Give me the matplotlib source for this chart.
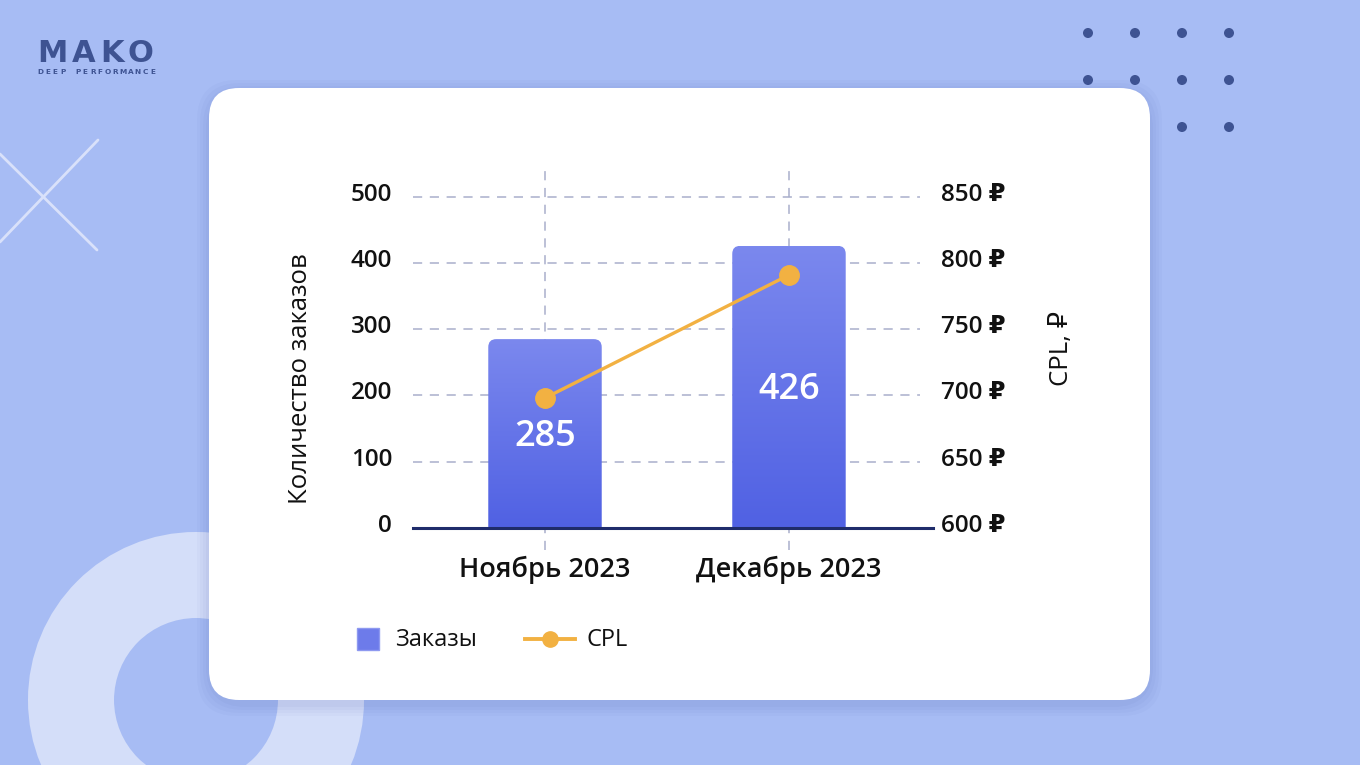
import numpy as np
import matplotlib.pyplot as plt
from matplotlib.patches import FancyBboxPatch, Circle, Rectangle
from matplotlib.transforms import ScaledTranslation

# data
months = ['Ноябрь 2023', 'Декабрь 2023']
orders = [285, 426]
cpl = [698, 791]
left_ticks = [0, 100, 200, 300, 400, 500]
right_ticks = [600, 650, 700, 750, 800, 850]
right_labels = [f'{v} ₽' for v in right_ticks]
legend_labels = ['Заказы', 'CPL']

plt.rcParams['font.family'] = ['Open Sans', 'DejaVu Sans']

W, H = 1360, 765
bg = '#a7bcf4'
navy = '#3e5392'
bar_col = '#6d7bea'
line_col = '#f2b142'
fig = plt.figure(figsize=(W / 100, H / 100), dpi=100)
fig.patch.set_facecolor(bg)

# background decoration, in pixel coords
deco = fig.add_axes([0, 0, 1, 1])
deco.set_xlim(0, W)
deco.set_ylim(H, 0)
deco.axis('off')
deco.add_patch(Circle((196, 700), 125, fill=False, ec='#d4def9', lw=86 * 0.72))
deco.plot([98, 0], [140, 242], color='#d9e1fa', lw=2, solid_capstyle='round')
deco.plot([0, 97], [154, 250], color='#d9e1fa', lw=2, solid_capstyle='round')
for xd in [1088, 1135, 1182, 1229]:
    for yd in [33, 80, 127]:
        deco.add_patch(Circle((xd, yd), 4.3, color=navy))

# logo
for ch, xc in zip('MAKO', [52, 84, 112, 140]):
    deco.text(xc, 62, ch, ha='center', va='baseline', fontsize=22, fontweight='bold',
              color=navy, family=['DejaVu Sans'])
sub = 'DEEP PERFORMANCE'
for i, ch in enumerate(sub):
    deco.text(40 + i * 113 / (len(sub) - 1), 74, ch, ha='center', va='baseline',
              fontsize=5.3, fontweight='bold', color=navy, family=['DejaVu Sans'])

# card with soft shadow
for i, a in enumerate([0.03, 0.03, 0.03, 0.04]):
    g = 12 - i * 3
    deco.add_patch(FancyBboxPatch((209 - g + 30, 88 - g + 34), 941 + 2 * g - 60, 612 + 2 * g - 60,
                                  boxstyle='round,pad=30,rounding_size=40',
                                  fc='#3a4f9a', ec='none', alpha=a))
deco.add_patch(FancyBboxPatch((239, 118), 881, 552, boxstyle='round,pad=30,rounding_size=30',
                              fc='white', ec='none'))

# legend, drawn by hand
deco.add_patch(Rectangle((357, 628), 22, 22, fc=bar_col, ec='#8e99f0', lw=1))
deco.text(395, 640, legend_labels[0], ha='left', va='center', fontsize=17, color='#111111')
deco.plot([525, 575], [639, 639], color=line_col, lw=2.8)
deco.plot([550], [639], 'o', color=line_col, ms=11)
deco.text(587, 640, legend_labels[1], ha='left', va='center', fontsize=17, color='#111111')

# chart axes
ax = fig.add_axes([413 / W, 1 - 550 / H, 507 / W, 380 / H])
ax.set_facecolor('none')
x = np.arange(len(months))
ax.set_xlim(-0.541, 1.537)
ax.set_ylim(-33.7, 540.6)
bar_w = 0.465
bars = ax.bar(x, orders, width=bar_w, color='none', edgecolor='none', zorder=2)

# gradient bars with rounded tops
px_x = 507 / (1.537 + 0.541)
px_y = 380 / (540.6 + 33.7)
r = 8
grad = np.linspace(0, 1, 256).reshape(-1, 1)
cmap = plt.matplotlib.colors.LinearSegmentedColormap.from_list('b', ['#5061e3', '#7b88ee'])
for b, v in zip(bars, orders):
    x0 = b.get_x()
    clip = FancyBboxPatch((x0, -30), bar_w, v + 30,
                          boxstyle=f'round,pad=0,rounding_size={r / px_x}',
                          mutation_aspect=px_x / px_y, transform=ax.transData,
                          fc='none', ec='none')
    ax.add_patch(clip)
    im = ax.imshow(grad, cmap=cmap, origin='lower', aspect='auto',
                   extent=[x0, x0 + bar_w, 0, v], zorder=2)
    im.set_clip_path(clip)
    ax.text(b.get_x() + bar_w / 2, v / 2 - 5, str(v), ha='center', va='center',
            color='white', fontsize=26, fontweight='semibold', zorder=5)

# grid
for t in left_ticks[1:]:
    ax.axhline(t, color='#a9afcb', lw=1.1, ls=(0, (6, 5)), zorder=1)
for xi in x:
    ax.axvline(xi, color='#a9afcb', lw=1.1, ls=(0, (6, 5)), zorder=1)
ax.axhline(0, xmin=0, xmax=520 / 507, color='#1f2c6b', lw=2.2, zorder=4, clip_on=False)

ax.set_xticks(x)
ax.set_xticklabels(months, fontsize=19.5, fontweight='semibold')
ax.set_yticks(left_ticks)
ax.set_yticklabels([str(t) for t in left_ticks], fontsize=17.5, fontweight='semibold')
ax.tick_params(axis='both', length=0, colors='#111111')
ax.tick_params(axis='x', pad=4)
ax.tick_params(axis='y', pad=15)
for s in ax.spines.values():
    s.set_visible(False)
ax.set_ylabel('Количество заказов', fontsize=18.5, color='#111111')
ax.yaxis.set_label_coords(-0.197, 0.45)

# CPL on the right axis
ax2 = ax.twinx()
ax2.set_ylim(600 - 33.7 / 2, 600 + 540.6 / 2)
ax2.plot(x, cpl, color=line_col, lw=2.4, marker='o', ms=14, zorder=6)
ax2.set_yticks(right_ticks)
ax2.set_yticklabels(right_labels, fontsize=17.5, fontweight='semibold')
ax2.tick_params(axis='y', length=0, pad=15, colors='#111111')
for s in ax2.spines.values():
    s.set_visible(False)
ax2.set_ylabel('CPL, ₽', fontsize=18.5, color='#111111')
ax2.yaxis.set_label_coords(1.255, 0.53)

# tick labels sit a little above their grid lines
up = ScaledTranslation(0, 5 / 100, fig.dpi_scale_trans)
for lbl in ax.get_yticklabels() + ax2.get_yticklabels():
    lbl.set_transform(lbl.get_transform() + up)

fig.savefig('out.png', dpi=100, facecolor=fig.get_facecolor())
